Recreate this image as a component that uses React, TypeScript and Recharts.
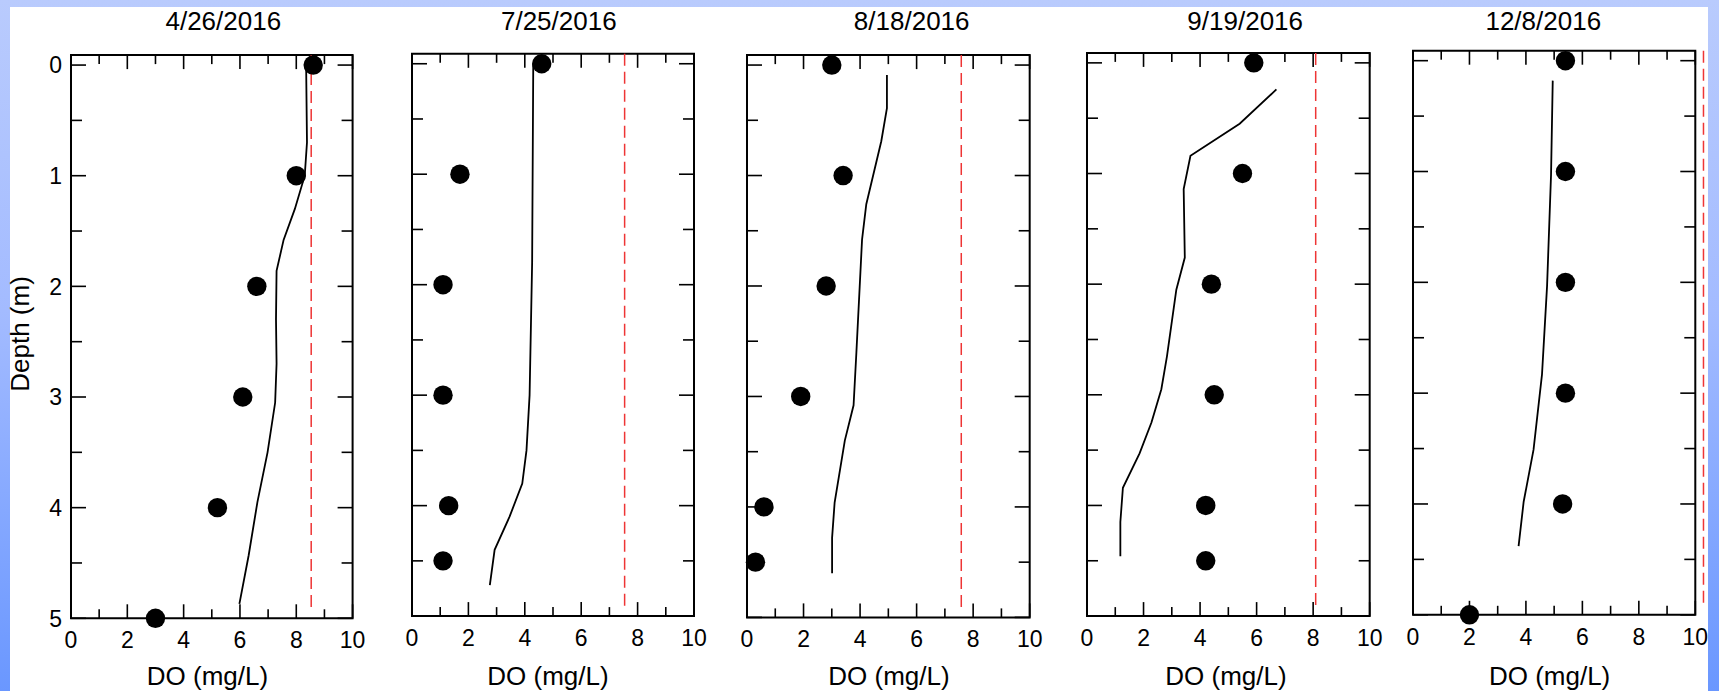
import React from 'react';
import { ScatterChart, Scatter, XAxis, YAxis, ReferenceLine, ReferenceArea } from 'recharts';

const FONT = '"Liberation Sans", Arial, Helvetica, sans-serif';

// ---- data -------------------------------------------------------------
const sampleDates = ['4/26/2016', '7/25/2016', '8/18/2016', '9/19/2016', '12/8/2016'];

const doTicks = [0, 1, 2, 3, 4, 5, 6, 7, 8, 9, 10];
const depthTicks = [0, 0.5, 1, 1.5, 2, 2.5, 3, 3.5, 4, 4.5, 5];

// grab samples (depth in m, DO in mg/L)
const sampleDepthApr = [0, 1, 2, 3, 4, 5];
const sampleDoApr = [8.6, 8.0, 6.6, 6.1, 5.2, 3.0];
const sampleDepthJul = [0, 1, 2, 3, 4, 4.5];
const sampleDoJul = [4.6, 1.7, 1.1, 1.1, 1.3, 1.1];
const sampleDepthAug = [0, 1, 2, 3, 4, 4.5];
const sampleDoAug = [3.0, 3.4, 2.8, 1.9, 0.6, 0.3];
const sampleDepthSep = [0, 1, 2, 3, 4, 4.5];
const sampleDoSep = [5.9, 5.5, 4.4, 4.5, 4.2, 4.2];
const sampleDepthDec = [0, 1, 2, 3, 4, 5];
const sampleDoDec = [5.4, 5.4, 5.4, 5.4, 5.3, 2.0];

// sonde profiles
const profileDepthApr = [0, 0.7, 1.0, 1.3, 1.58, 1.86, 2.3, 2.7, 3.05, 3.5, 3.95, 4.43, 4.87];
const profileDoApr = [8.35, 8.38, 8.3, 7.95, 7.55, 7.3, 7.28, 7.3, 7.25, 6.98, 6.62, 6.31, 5.98];
const profileDepthJul = [0, 1.8, 3.0, 3.5, 3.8, 4.1, 4.4, 4.72];
const profileDoJul = [4.3, 4.26, 4.17, 4.06, 3.91, 3.46, 2.93, 2.76];
const profileDepthAug = [0.09, 0.39, 0.69, 1.26, 1.58, 2.6, 3.08, 3.4, 3.96, 4.28, 4.6];
const profileDoAug = [4.95, 4.95, 4.75, 4.22, 4.07, 3.87, 3.77, 3.46, 3.1, 3.01, 3.01];
const profileDepthSep = [0.24, 0.55, 0.84, 1.14, 1.76, 2.05, 2.65, 2.95, 3.25, 3.53, 3.84, 4.15, 4.46];
const profileDoSep = [6.7, 5.4, 3.66, 3.42, 3.46, 3.16, 2.83, 2.63, 2.28, 1.86, 1.27, 1.18, 1.18];
const profileDepthDec = [0.18, 1.03, 2.03, 2.83, 3.51, 3.98, 4.38];
const profileDoDec = [4.95, 4.89, 4.75, 4.57, 4.27, 3.92, 3.74];

// saturation DO for each date
const saturationDo = [8.53, 7.54, 7.58, 8.09, 10.29];
const saturationDepthTop = -0.09;
const saturationDepthBottom = 4.92;

const DEPTH_MIN = -0.09;
const DEPTH_MAX = 5;

// ---- layout -----------------------------------------------------------
const PAGE_W = 1719;
const PAGE_H = 691;
const PAD_L = 60;
const PAD_R = 24;

type Box = { left: number; right: number; top: number; bottom: number };
const boxes: Box[] = [
  { left: 70.7, right: 352.3, top: 55.1, bottom: 618.3 },
  { left: 412.3, right: 694.3, top: 53.8, bottom: 616.1 },
  { left: 747.3, right: 1030, top: 55.1, bottom: 617.4 },
  { left: 1087.3, right: 1370, top: 52.9, bottom: 616.1 },
  { left: 1412.7, right: 1695, top: 50.7, bottom: 614.8 },
];
const titleCenters = [223.3, 558.8, 911.7, 1245.2, 1543.3];
const xLabelCenters = [207.5, 548, 889, 1226, 1549.6];

type Pt = { do: number; depth: number };
const zip = (depths: number[], vals: number[]): Pt[] =>
  depths.map((d, i) => ({ depth: d, do: vals[i] }));

const samples: Pt[][] = [
  zip(sampleDepthApr, sampleDoApr),
  zip(sampleDepthJul, sampleDoJul),
  zip(sampleDepthAug, sampleDoAug),
  zip(sampleDepthSep, sampleDoSep),
  zip(sampleDepthDec, sampleDoDec),
];
const profiles: Pt[][] = [
  zip(profileDepthApr, profileDoApr),
  zip(profileDepthJul, profileDoJul),
  zip(profileDepthAug, profileDoAug),
  zip(profileDepthSep, profileDoSep),
  zip(profileDepthDec, profileDoDec),
];

const TICK_W = 1.6;

function ProfilePanel({ index }: { index: number }) {
  const box = boxes[index];
  const plotW = box.right - box.left;
  const width = plotW + PAD_L + PAD_R;
  const T = box.top;
  const B = box.bottom;
  const Lc = PAD_L;
  const Rc = PAD_L + plotW;
  const showDepthLabels = index === 0;

  const XTick = (props: any) => {
    const { x, payload } = props;
    const v = payload.value as number;
    const major = v % 2 === 0;
    const len = major ? 14 : 9;
    return (
      <g>
        <line x1={x} x2={x} y1={B} y2={B - len} stroke="#000" strokeWidth={TICK_W} />
        <line x1={x} x2={x} y1={T} y2={T + len} stroke="#000" strokeWidth={TICK_W} />
        {major && (
          <text x={x} y={B + 30} textAnchor="middle" fontSize={23} fontFamily={FONT} fill="#000">
            {v}
          </text>
        )}
      </g>
    );
  };

  const YTick = (props: any) => {
    const { y, payload } = props;
    const v = payload.value as number;
    const major = Number.isInteger(v);
    const len = major ? 15 : 11;
    return (
      <g>
        <line x1={Lc} x2={Lc + len} y1={y} y2={y} stroke="#000" strokeWidth={TICK_W} />
        <line x1={Rc} x2={Rc - len} y1={y} y2={y} stroke="#000" strokeWidth={TICK_W} />
        {showDepthLabels && major && (
          <text x={Lc - 9} y={y + 8.3} textAnchor="end" fontSize={23} fontFamily={FONT} fill="#000">
            {v}
          </text>
        )}
      </g>
    );
  };

  const sat = saturationDo[index];

  return (
    <div style={{ position: 'absolute', left: box.left - PAD_L, top: 0, width, height: PAGE_H }}>
      <ScatterChart
        width={width}
        height={PAGE_H}
        margin={{ top: T, right: PAD_R, bottom: 0, left: 0 }}
      >
        <XAxis
          type="number"
          dataKey="do"
          domain={[0, 10]}
          ticks={doTicks}
          interval={0}
          tick={XTick}
          tickLine={false}
          axisLine={false}
          tickSize={0}
          height={PAGE_H - B}
        />
        <YAxis
          type="number"
          dataKey="depth"
          domain={[DEPTH_MIN, DEPTH_MAX]}
          reversed
          ticks={depthTicks}
          interval={0}
          tick={YTick}
          tickLine={false}
          axisLine={false}
          tickSize={0}
          width={PAD_L}
        />
        <ReferenceArea
          x1={0}
          x2={10}
          y1={DEPTH_MIN}
          y2={DEPTH_MAX}
          fill="none"
          stroke="#000"
          strokeWidth={2}
          ifOverflow="visible"
        />
        <ReferenceLine
          segment={[
            { x: sat, y: saturationDepthTop },
            { x: sat, y: saturationDepthBottom },
          ]}
          stroke="#ee3535"
          strokeWidth={1.5}
          strokeDasharray="12 6"
          ifOverflow="visible"
        />
        <Scatter
          data={profiles[index]}
          line={{ stroke: '#000', strokeWidth: 1.8 }}
          shape={() => <g />}
          isAnimationActive={false}
        />
        <Scatter
          data={samples[index]}
          fill="#000"
          shape={(p: any) => <circle cx={p.cx} cy={p.cy} r={9.7} fill="#000" />}
          isAnimationActive={false}
        />
      </ScatterChart>
    </div>
  );
}

export default function App() {
  return (
    <div
      style={{
        position: 'absolute',
        left: 0,
        top: 0,
        width: PAGE_W,
        height: PAGE_H,
        overflow: 'hidden',
        background: 'linear-gradient(180deg, #b9cbfd 0%, #a3bbff 45%, #6a97ff 100%)',
      }}
    >
      <div style={{ position: 'absolute', left: 10, top: 7, width: 1698, height: PAGE_H - 7, background: '#fff' }} />
      {sampleDates.map((_, i) => (
        <ProfilePanel key={i} index={i} />
      ))}
      <svg
        width={PAGE_W}
        height={PAGE_H}
        style={{ position: 'absolute', left: 0, top: 0, pointerEvents: 'none' }}
      >
        {sampleDates.map((d, i) => (
          <text key={'t' + i} x={titleCenters[i]} y={30} textAnchor="middle" fontSize={26} fontFamily={FONT} fill="#000">
            {d}
          </text>
        ))}
        {sampleDates.map((_, i) => (
          <text key={'x' + i} x={xLabelCenters[i]} y={685} textAnchor="middle" fontSize={26} fontFamily={FONT} fill="#000">
            DO (mg/L)
          </text>
        ))}
        <text
          x={28.5}
          y={334}
          transform="rotate(-90 28.5 334)"
          textAnchor="middle"
          fontSize={26}
          fontFamily={FONT}
          fill="#000"
        >
          Depth (m)
        </text>
      </svg>
    </div>
  );
}
